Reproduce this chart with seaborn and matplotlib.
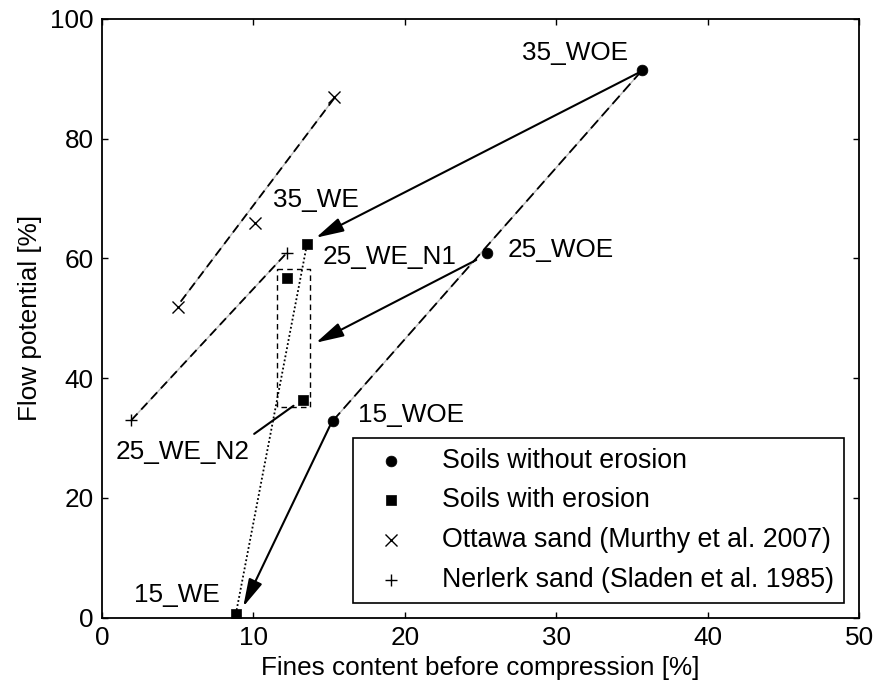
import matplotlib
matplotlib.use("Agg")
import matplotlib.pyplot as plt
import seaborn as sns
import pandas as pd

# ---- data ----
woe_labels = ["15_WOE", "25_WOE", "35_WOE"]
woe_x = [15.25, 25.4, 35.7]
woe_y = [32.9, 60.9, 91.5]

we_labels = ["15_WE", "25_WE_N2", "25_WE_N1", "35_WE"]
we_x = [8.84, 13.25, 12.19, 13.54]
we_y = [0.6, 36.4, 56.8, 62.4]

ottawa_x = [5.03, 10.12, 15.3]
ottawa_y = [51.9, 66.0, 86.9]
ottawa_fit_x = [5.2, 15.5]
ottawa_fit_y = [52.8, 87.3]

nerlerk_x = [1.94, 12.19]
nerlerk_y = [33.0, 60.9]

woe_fit_x = [15.25, 35.7]
woe_fit_y = [32.9, 91.5]

we_fit_x = [8.84, 13.54]
we_fit_y = [0.6, 62.4]

box_x = [11.59, 13.76, 13.76, 11.59, 11.59]
box_y = [58.2, 58.2, 35.2, 35.2, 58.2]

# arrows: (start_x, start_y, end_x, end_y)
arrow_start_x = [35.5, 24.72, 15.08]
arrow_start_y = [91.1, 59.75, 32.19]
arrow_end_x = [14.13, 14.13, 9.33]
arrow_end_y = [63.47, 45.93, 1.84]

# text labels
text_labels = ["35_WOE", "35_WE", "25_WE_N1", "25_WOE", "15_WOE", "25_WE_N2", "15_WE"]
text_x = [31.26, 14.1, 19.0, 30.29, 20.38, 5.31, 4.93]
text_y = [94.3, 69.8, 60.3, 61.4, 33.9, 27.7, 3.8]

n2_leader_x = [10.05, 12.65]
n2_leader_y = [30.7, 35.4]

legend_labels = ["Soils without erosion", "Soils with erosion",
                 "Ottawa sand (Murthy et al. 2007)", "Nerlerk sand (Sladen et al. 1985)"]

# ---- style ----
sns.set_style("ticks")
plt.rcParams["font.family"] = ["Liberation Sans", "DejaVu Sans"]
plt.rcParams["text.color"] = "black"
plt.rcParams["axes.labelcolor"] = "black"
plt.rcParams["xtick.color"] = "black"
plt.rcParams["ytick.color"] = "black"
FS = 18.8
LFS = 19.3

fig = plt.figure(figsize=(8.92, 6.88), dpi=100)
ax = fig.add_axes([102 / 892, 1 - 617.7 / 688, 757 / 892, 598.7 / 688])


def dashed_fit(xs, ys, dash):
    d = pd.DataFrame({"x": xs, "y": ys})
    sns.lineplot(data=d, x="x", y="y", ax=ax, color="#bbbbbb", lw=1.0,
                 sort=False, estimator=None, zorder=2)
    sns.lineplot(data=d, x="x", y="y", ax=ax, color="black", lw=1.3,
                 linestyle=(0, dash), sort=False, estimator=None, zorder=3)


dashed_fit(ottawa_fit_x, ottawa_fit_y, (5, 3))
dashed_fit(nerlerk_x, nerlerk_y, (5, 3))
dashed_fit(woe_fit_x, woe_fit_y, (6, 3))

sns.lineplot(x=we_fit_x, y=we_fit_y, ax=ax, color="black", lw=1.3,
             linestyle=(0, (1, 1.3)), sort=False, estimator=None, zorder=3)
sns.lineplot(x=box_x, y=box_y, ax=ax, color="black", lw=1.0,
             linestyle=(0, (4, 3)), sort=False, estimator=None, zorder=3)
sns.lineplot(x=n2_leader_x, y=n2_leader_y, ax=ax, color="black", lw=1.5,
             sort=False, estimator=None, zorder=3)

sns.scatterplot(x=woe_x, y=woe_y, ax=ax, marker="o", s=60, color="black",
                edgecolor="black", linewidth=0.5, label=legend_labels[0], zorder=5)
sns.scatterplot(x=we_x, y=we_y, ax=ax, marker="s", s=62, color="black",
                edgecolor="black", linewidth=0.5, label=legend_labels[1], zorder=5)
sns.scatterplot(x=ottawa_x, y=ottawa_y, ax=ax, marker="x", s=75, color="black",
                linewidth=1.0, label=legend_labels[2], zorder=5)
sns.scatterplot(x=nerlerk_x, y=nerlerk_y, ax=ax, marker="+", s=75, color="black",
                linewidth=1.0, label=legend_labels[3], zorder=5)

for sx, sy, ex, ey in zip(arrow_start_x, arrow_start_y, arrow_end_x, arrow_end_y):
    ax.annotate("", xy=(ex, ey), xytext=(sx, sy),
                arrowprops=dict(arrowstyle="-|>,head_length=0.85,head_width=0.22",
                                color="black", lw=1.5, mutation_scale=20,
                                shrinkA=0, shrinkB=0), zorder=4)

for t, tx, ty in zip(text_labels, text_x, text_y):
    ax.text(tx, ty, t, fontsize=FS, ha="center", va="center", color="black", zorder=6)

ax.set_xlim(0, 50)
ax.set_ylim(0, 100)
ax.set_xticks([0, 10, 20, 30, 40, 50])
ax.set_yticks([0, 20, 40, 60, 80, 100])
ax.tick_params(direction="in", top=True, right=True, length=4.5, width=1.0,
               labelsize=FS, pad=6, color="black", labelcolor="black")
for sp in ax.spines.values():
    sp.set_linewidth(1.3)
    sp.set_color("black")
    sp.set_visible(True)

ax.set_xlabel("Fines content before compression [%]", fontsize=FS, labelpad=4,
              color="black")
ax.set_ylabel("Flow potential [%]", fontsize=FS, labelpad=6, color="black")

leg = ax.legend(loc="lower right", fontsize=LFS, frameon=True, fancybox=False,
                edgecolor="black", framealpha=1, borderaxespad=0.55,
                labelspacing=0.51, handletextpad=0.85, borderpad=0.38,
                handlelength=2.1, scatterpoints=1, labelcolor="black")
leg.get_frame().set_linewidth(1.2)

fig.savefig("out.png", dpi=100)
